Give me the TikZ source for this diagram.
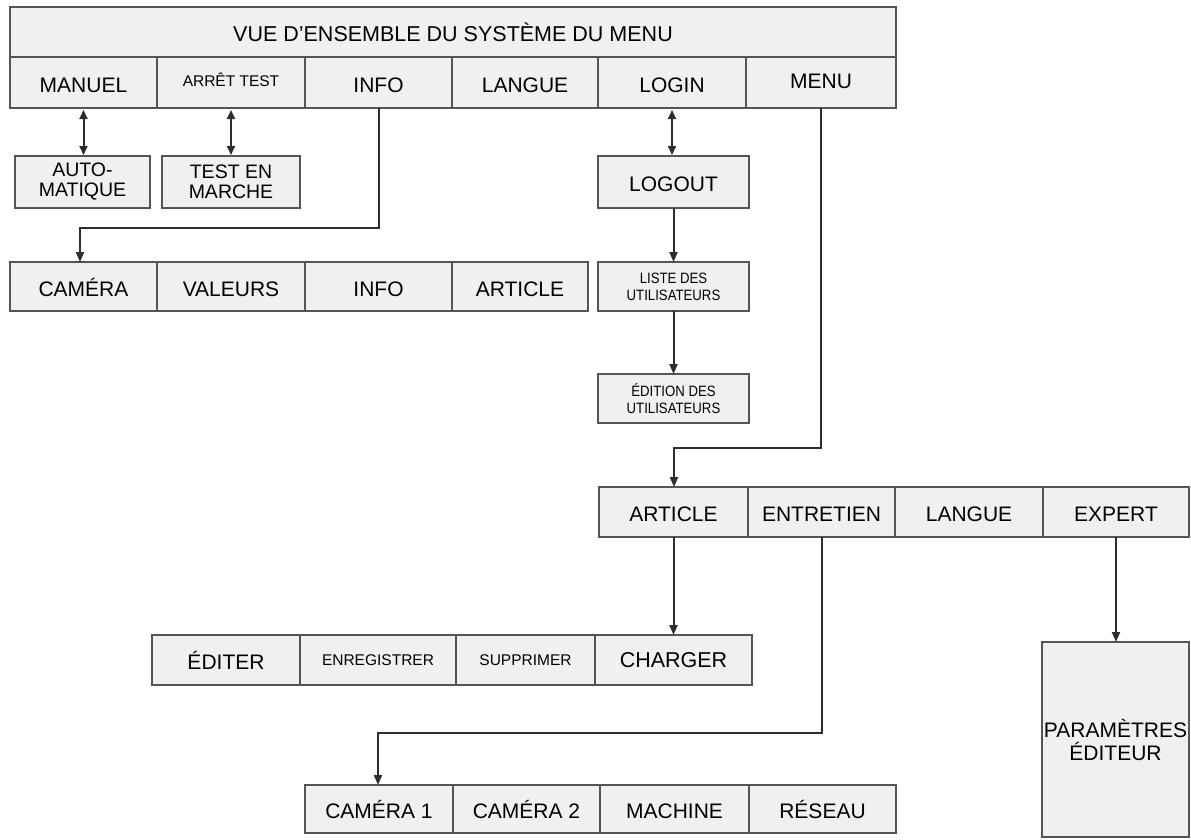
\documentclass[tikz,border=0pt]{standalone}
\usepackage{fontspec}
\setmainfont{Liberation Sans}
\usetikzlibrary{arrows.meta}
\definecolor{boxf}{RGB}{240,240,240}
\definecolor{bordc}{RGB}{85,85,85}
\definecolor{linec}{RGB}{45,45,45}
\tikzset{
  cell/.style={draw=bordc, fill=boxf, line width=1.6pt, inner sep=0pt, outer sep=0pt,
    anchor=north west, align=center, font=\fontsize{21}{23}\selectfont},
  low/.style={text height=19pt, text depth=0pt},
  small/.style={font=\fontsize{15.5}{17}\selectfont},
  tiny/.style={font=\fontsize{15}{17}\selectfont\addfontfeature{FakeStretch=0.88}},
  two/.style={font=\fontsize{19.5}{20}\selectfont},
  big/.style={font=\fontsize{21.5}{24}\selectfont},
  conn/.style={draw=linec, line width=2pt, -{Triangle[length=10pt,width=8pt]}},
  dconn/.style={draw=linec, line width=2pt, {Triangle[length=9pt,width=8pt]}-{Triangle[length=9pt,width=8pt]}}
}
\newcommand{\cellbox}[6][]{\node[cell,#1,minimum width=#4pt,minimum height=#5pt] (#2) at #3 {#6};}
\begin{document}
\begin{tikzpicture}[x=1pt,y=-1pt]
\useasboundingbox (0,0) rectangle (1191,839);
% top
\cellbox[big]{title}{(10,7)}{886}{50}{VUE D’ENSEMBLE DU SYSTÈME DU MENU}
\cellbox[low]{manuel}{(10,57)}{147}{51}{MANUEL}
\cellbox[small,text height=11.5pt,text depth=4pt]{arret}{(157,57)}{148}{51}{ARRÊT TEST}
\cellbox[low]{info}{(305,57)}{147}{51}{INFO}
\cellbox[low]{langue}{(452,57)}{146}{51}{LANGUE}
\cellbox[low]{login}{(598,57)}{148}{51}{LOGIN}
\cellbox[text height=15pt,text depth=4pt]{menu}{(746,57)}{150}{51}{MENU}
% second level
\cellbox[two]{auto}{(15,156)}{135}{52}{AUTO-\\MATIQUE}
\cellbox[two]{test}{(162,156)}{138}{52}{TEST EN\\MARCHE}
\cellbox[low]{logout}{(598,156)}{151}{52}{LOGOUT}
% info row
\cellbox[low]{cam}{(10,262)}{147}{49}{CAMÉRA}
\cellbox[low]{val}{(157,262)}{148}{49}{VALEURS}
\cellbox[low]{infob}{(305,262)}{147}{49}{INFO}
\cellbox[low]{arta}{(452,262)}{136}{49}{ARTICLE}
\cellbox[tiny]{liste}{(598,262)}{151}{49}{LISTE DES\\UTILISATEURS}
\cellbox[tiny]{edition}{(598,374)}{151}{49}{ÉDITION DES\\UTILISATEURS}
% menu row
\cellbox[low]{artb}{(599,487)}{149}{50}{ARTICLE}
\cellbox[low]{ent}{(748,487)}{147}{50}{ENTRETIEN}
\cellbox[low]{langb}{(895,487)}{148}{50}{LANGUE}
\cellbox[low]{expert}{(1043,487)}{146}{50}{EXPERT}
% article row
\cellbox[low]{editer}{(152,635)}{148}{50}{ÉDITER}
\cellbox[small]{enreg}{(300,635)}{156}{50}{ENREGISTRER}
\cellbox[small]{suppr}{(456,635)}{139}{50}{SUPPRIMER}
\cellbox[big]{charger}{(595,635)}{157}{50}{CHARGER}
% entretien row
\cellbox[low]{cama}{(305,785)}{148}{48}{CAMÉRA 1}
\cellbox[low]{camb}{(453,785)}{147}{48}{CAMÉRA 2}
\cellbox[low]{mach}{(600,785)}{149}{48}{MACHINE}
\cellbox[low]{reseau}{(749,785)}{147}{48}{RÉSEAU}
% expert
\cellbox{param}{(1042,642)}{147}{195}{PARAMÈTRES\\ÉDITEUR}
% connectors
\draw[dconn] ([yshift=-2pt]manuel.south) -- ([yshift=1pt]manuel.south |- auto.north);
\draw[dconn] ([yshift=-2pt]arret.south) -- ([yshift=1pt]arret.south |- test.north);
\draw[dconn] ([yshift=-2pt]login.south) -- ([yshift=1pt]login.south |- logout.north);
\coordinate (k1) at (80,228);
\draw[conn] (info.south) |- (k1) -- (k1 |- cam.north);
\draw[conn] (logout.south -| liste.north) -- (liste.north);
\draw[conn] (liste.south) -- (edition.north);
\coordinate (k2) at (674,448);
\draw[conn] (menu.south) |- (k2) -- (k2 |- artb.north);
\draw[conn] (artb.south) -- (artb.south |- charger.north);
\coordinate (k3) at (378,733);
\draw[conn] (ent.south) |- (k3) -- (k3 |- cama.north);
\draw[conn] (expert.south) -- (expert.south |- param.north);
\end{tikzpicture}
\end{document}
